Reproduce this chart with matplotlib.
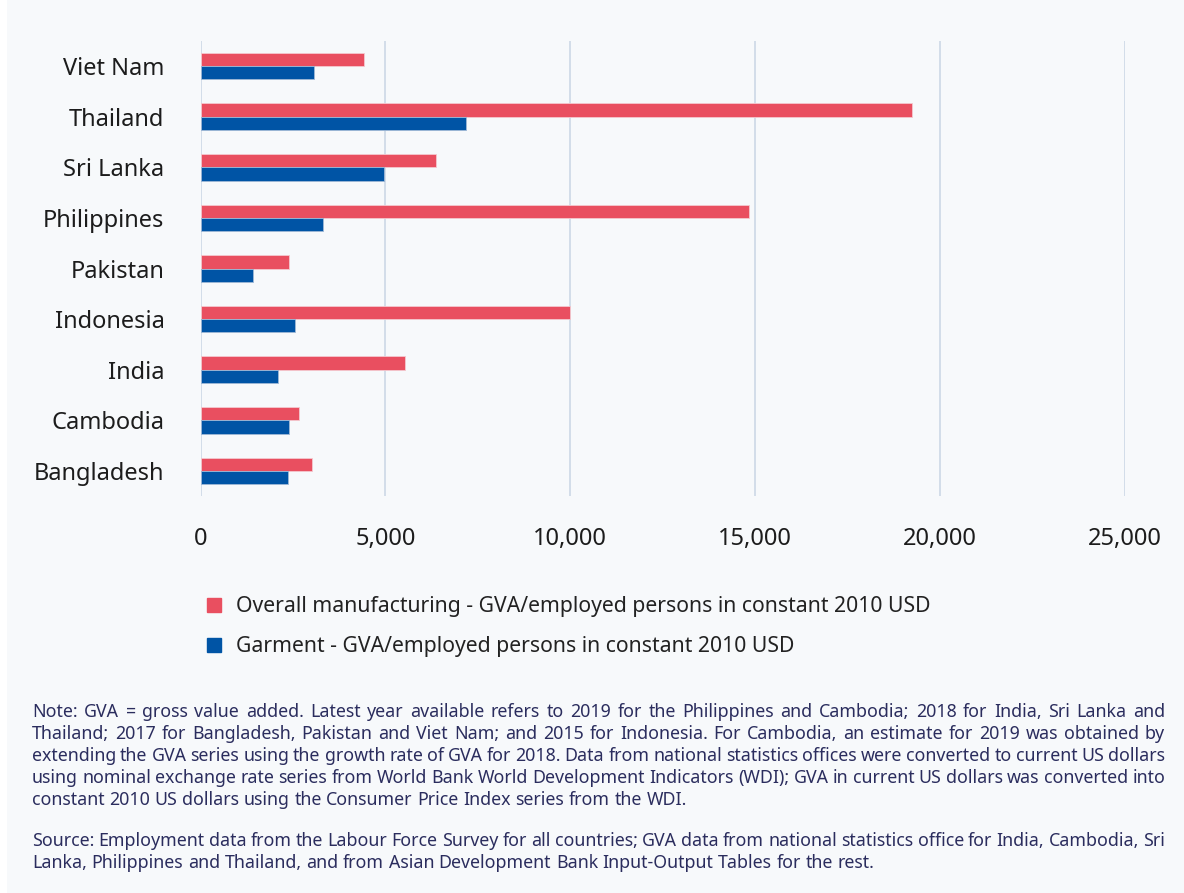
import matplotlib
matplotlib.use("Agg")
import matplotlib.pyplot as plt
from matplotlib.lines import Line2D
from matplotlib.patches import Rectangle
import numpy as np

plt.rcParams["font.family"] = ["Noto Sans", "DejaVu Sans"]

# data, bottom to top as drawn
countries = ["Bangladesh", "Cambodia", "India", "Indonesia", "Pakistan",
             "Philippines", "Sri Lanka", "Thailand", "Viet Nam"]
overall = [3020, 2670, 5530, 10000, 2400, 14840, 6370, 19250, 4410]
garment = [2370, 2400, 2090, 2560, 1420, 3320, 4960, 7190, 3070]
xticks = [0, 5000, 10000, 15000, 20000, 25000]

series_names = ["Overall manufacturing - GVA/employed persons in constant 2010 USD",
                "Garment - GVA/employed persons in constant 2010 USD"]

note_lines = [
    "Note: GVA = gross value added. Latest year available refers to 2019 for the Philippines and Cambodia; 2018 for India, Sri Lanka and",
    "Thailand; 2017 for Bangladesh, Pakistan and Viet Nam; and 2015 for Indonesia. For Cambodia, an estimate for 2019 was obtained by",
    "extending the GVA series using the growth rate of GVA for 2018. Data from national statistics offices were converted to current US dollars",
    "using nominal exchange rate series from World Bank World Development Indicators (WDI); GVA in current US dollars was converted into",
    "constant 2010 US dollars using the Consumer Price Index series from the WDI.",
]
source_lines = [
    "Source: Employment data from the Labour Force Survey for all countries; GVA data from national statistics office for India, Cambodia, Sri",
    "Lanka, Philippines and Thailand, and from Asian Development Bank Input-Output Tables for the rest.",
]

RED = "#e94f60"
BLUE = "#0054a5"
W, H = 1184, 893

fig = plt.figure(figsize=(W / 100, H / 100), dpi=100, facecolor="white")
fig.patches.append(Rectangle((7 / W, 0), 1, 1, transform=fig.transFigure,
                             facecolor="#f7f9fb", edgecolor="none", zorder=-10))

ax = fig.add_axes([200.5 / W, 1 - 496.3 / H, 924.5 / W, 455.6 / H])
ax.set_facecolor("none")

y = np.arange(len(countries))
h = 0.263
ax.barh(y + h / 2, overall, height=h, color=RED, edgecolor="#f4c9cf", linewidth=0.6, zorder=3)
ax.barh(y - h / 2, garment, height=h, color=BLUE, edgecolor="#9fb8d6", linewidth=0.6, zorder=3)

ax.set_xlim(0, 25000)
ax.set_ylim(-0.5, len(countries) - 0.5)
ax.set_xticks(xticks)
ax.set_xticklabels([f"{v:,}" for v in xticks])
ax.set_yticks(y)
ax.set_yticklabels(countries)
for v in xticks:
    ax.axvline(v, color="#d0dbe8", lw=1.3, zorder=1)
for s in ax.spines.values():
    s.set_visible(False)
ax.tick_params(axis="both", length=0, labelsize=17, colors="#1c1c1c")
ax.tick_params(axis="y", pad=26)
ax.tick_params(axis="x", pad=22)

handles = [Line2D([], [], marker="s", ls="none", color=RED, markersize=9.5),
           Line2D([], [], marker="s", ls="none", color=BLUE, markersize=9.5)]
fig.legend(handles, series_names, loc="center left", bbox_to_anchor=(203 / W, 1 - 626.5 / H),
           frameon=False, fontsize=15.25, handlelength=1.0, handletextpad=0.55,
           labelspacing=0.9, borderpad=0, borderaxespad=0, labelcolor="#222222")

# justified note text, word by word
renderer = fig.canvas.get_renderer()
NOTE_COLOR = "#2b2d5e"
NOTE_SIZE = 12.8


def put_line(line, yc, justify):
    x0, x1 = 32, 1165
    words = line.split(" ")
    texts = [fig.text(0, 1 - yc / H, w, fontsize=NOTE_SIZE, color=NOTE_COLOR, va="center")
             for w in words]
    widths = [t.get_window_extent(renderer).width for t in texts]
    if justify:
        gap = (x1 - x0 - sum(widths)) / (len(words) - 1)
    else:
        gap = NOTE_SIZE * 100 / 72 * 0.26
    x = x0
    for t, wd in zip(texts, widths):
        t.set_x(x / W)
        x += wd + gap


for i, line in enumerate(note_lines):
    put_line(line, 712 + 22 * i, i < len(note_lines) - 1)
for i, line in enumerate(source_lines):
    put_line(line, 841 + 21.5 * i, i < len(source_lines) - 1)

fig.savefig("out.png", dpi=100, facecolor=fig.get_facecolor())
